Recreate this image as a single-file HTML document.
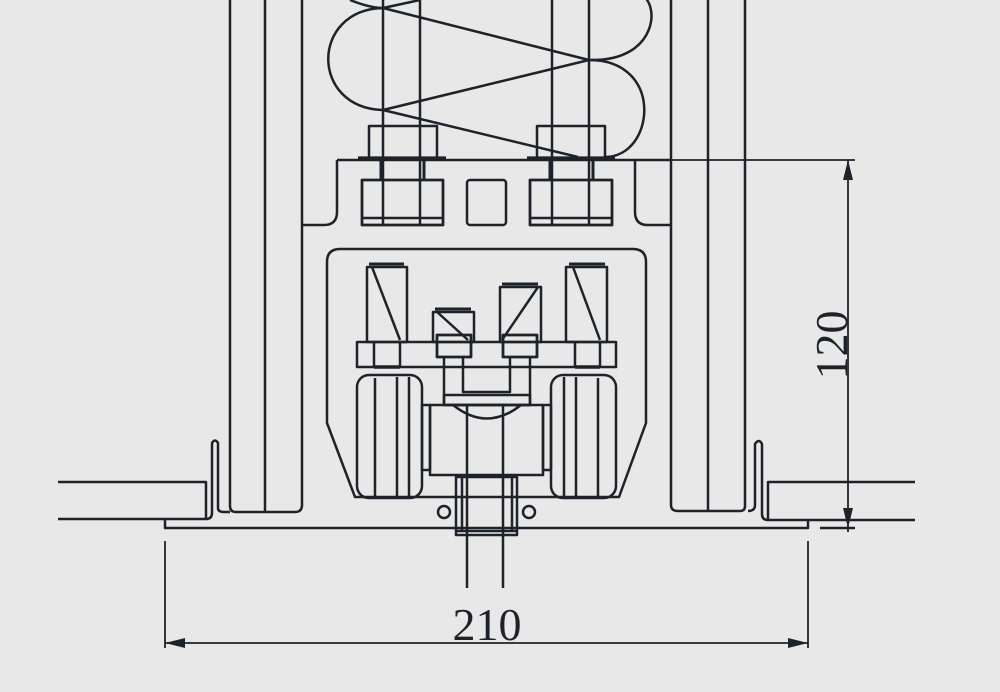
<!DOCTYPE html>
<html><head><meta charset="utf-8"><style>
html,body{margin:0;padding:0;background:#e8e8e9;}
svg{display:block}
text{font-family:"Liberation Serif",serif;fill:#1e2329}
</style></head><body>
<svg width="1000" height="692" viewBox="0 0 1000 692" xmlns="http://www.w3.org/2000/svg">
<rect width="1000" height="692" fill="#e8e8e9"/>
<g fill="none" stroke="#1e2329" stroke-width="2.5" stroke-linejoin="round">
<line x1="230" y1="0" x2="230" y2="506"/>
<line x1="265" y1="0" x2="265" y2="512"/>
<path d="M302 0 V505 Q302 512 295 512 H236 Q230 512 230 506"/>
<line x1="745" y1="0" x2="745" y2="506"/>
<line x1="708" y1="0" x2="708" y2="511"/>
<path d="M671 0 V505 Q671 511 678 511 H740 Q745 511 745 506"/>
<path d="M58 482 H206 V519 H58"/>
<path d="M206 519 Q212 519 212 513 V443 Q215 438 218 443 V508 Q218 512 224 512 H230"/>
<path d="M165 520 V528 H808 V520"/>
<path d="M915 482 H768 V520 H915"/>
<path d="M768 520 Q762 520 762 514 V444 Q759 438 755 444 V505 Q755 511 748 511"/>
<path d="M337 160 H672"/>
<line x1="672" y1="160" x2="855" y2="160" stroke-width="1.8"/>
<path d="M337 160 V212 Q337 225 324 225 H303"/>
<path d="M635 160 V212 Q635 225 648 225 H671"/>
<path d="M327 423 V262 Q327 249 340 249 H633 Q646 249 646 262 V423 L619 497 H355 Z"/>
<line x1="383" y1="0" x2="383" y2="225"/>
<line x1="420" y1="0" x2="420" y2="225"/>
<line x1="552" y1="0" x2="552" y2="225"/>
<line x1="589" y1="0" x2="589" y2="225"/>
<path d="M350 0 Q370 8 383 8 L420 0"/>
<path d="M383 8 L589 60"/>
<path d="M589 60 L383 110"/>
<path d="M383 110 L578 157"/>
<path d="M383 8 C310 10 310 108 383 110"/>
<path d="M589 60 C660 62 660 0 640 -5"/>
<path d="M589 60 C665 60 655 157 605 157"/>
<rect x="369" y="126" width="68" height="32"/>
<rect x="537" y="126" width="68" height="32"/>
<line x1="358" y1="158" x2="446" y2="158" stroke-width="3.2"/>
<line x1="527" y1="158" x2="615" y2="158" stroke-width="3.2"/>
<rect x="362" y="180" width="81" height="45" stroke-width="2.8"/>
<line x1="362" y1="218" x2="443" y2="218"/>
<rect x="530" y="180" width="82" height="45" stroke-width="2.8"/>
<line x1="530" y1="218" x2="612" y2="218"/>
<rect x="467" y="180" width="39" height="45" rx="3"/>
<line x1="381" y1="160" x2="381" y2="180" stroke-width="3"/>
<line x1="424" y1="160" x2="424" y2="180" stroke-width="3"/>
<line x1="550" y1="160" x2="550" y2="180" stroke-width="3"/>
<line x1="593" y1="160" x2="593" y2="180" stroke-width="3"/>
<rect x="367" y="267" width="40" height="75"/>
<line x1="369" y1="264" x2="404" y2="264" stroke-width="3"/>
<line x1="372" y1="267" x2="400" y2="340"/>
<rect x="566" y="267" width="41" height="75"/>
<line x1="569" y1="264" x2="605" y2="264" stroke-width="3"/>
<line x1="573" y1="267" x2="600" y2="340"/>
<rect x="433" y="312" width="41" height="30"/>
<line x1="435" y1="309" x2="471" y2="309" stroke-width="3"/>
<line x1="436" y1="311" x2="468" y2="340"/>
<rect x="500" y="287" width="41" height="55"/>
<line x1="502" y1="284" x2="538" y2="284" stroke-width="3"/>
<line x1="538" y1="287" x2="502" y2="340"/>
<rect x="357" y="342" width="259" height="25"/>
<line x1="374" y1="342" x2="374" y2="367"/>
<line x1="400" y1="342" x2="400" y2="367"/>
<line x1="575" y1="342" x2="575" y2="367"/>
<line x1="600" y1="342" x2="600" y2="367"/>
<line x1="374" y1="367" x2="400" y2="367" stroke-width="3.5"/>
<line x1="575" y1="367" x2="600" y2="367" stroke-width="3.5"/>
<rect x="437" y="335" width="34" height="22" stroke-width="2.8"/>
<rect x="503" y="335" width="34" height="22" stroke-width="2.8"/>
<path d="M444 357 V405 H530 V357"/>
<path d="M463 357 V392 H510 V357"/>
<rect x="444" y="395" width="86" height="10"/>
<rect x="430" y="405" width="113" height="70"/>
<path d="M453 405 Q487 432 521 405"/>
<rect x="357" y="375" width="65" height="123" rx="12"/>
<line x1="375" y1="378" x2="375" y2="496"/>
<line x1="397" y1="377" x2="397" y2="497"/>
<line x1="409" y1="377" x2="409" y2="497"/>
<rect x="422" y="405" width="8" height="65"/>
<rect x="551" y="375" width="65" height="123" rx="12"/>
<line x1="564" y1="377" x2="564" y2="497"/>
<line x1="576" y1="377" x2="576" y2="497"/>
<line x1="598" y1="378" x2="598" y2="496"/>
<rect x="543" y="405" width="8" height="65"/>
<rect x="456" y="477" width="61" height="58"/>
<line x1="462" y1="477" x2="462" y2="532"/>
<line x1="512" y1="477" x2="512" y2="532"/>
<line x1="456" y1="531" x2="517" y2="531"/>
<line x1="467" y1="405" x2="467" y2="588"/>
<line x1="503" y1="405" x2="503" y2="588"/>
<circle cx="444" cy="512" r="6"/>
<circle cx="529" cy="512" r="6"/>
</g>
<g stroke="#1e2329" stroke-width="1.8" fill="none">
<line x1="848" y1="160" x2="848" y2="532"/>
<line x1="820" y1="528" x2="855" y2="528" stroke-width="2.6"/>
<line x1="165" y1="541" x2="165" y2="648"/>
<line x1="808" y1="541" x2="808" y2="648"/>
<line x1="165" y1="643" x2="808" y2="643"/>
</g>
<g fill="#1e2329">
<polygon points="848,160 843,180 853,180"/>
<polygon points="848,528 843,508 853,508"/>
<polygon points="165,643 185,638 185,648"/>
<polygon points="808,643 788,638 788,648"/>
</g>
<text x="487" y="640" font-size="46" text-anchor="middle">210</text>
<text transform="translate(847,345) rotate(-90)" font-size="46" text-anchor="middle">120</text>
</svg>
</body></html>
